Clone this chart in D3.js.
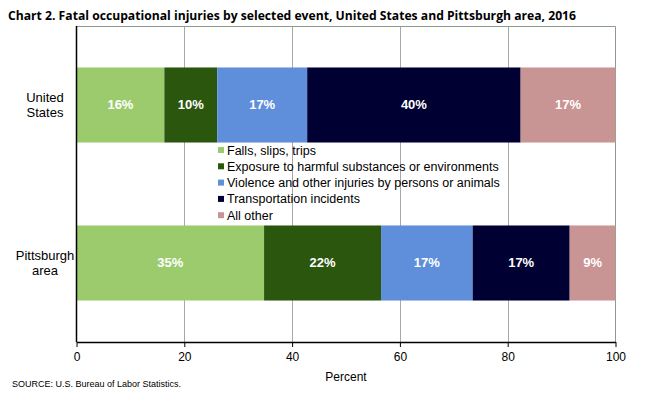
<!DOCTYPE html>
<html>
<head>
<meta charset="utf-8">
<script src="https://cdn.jsdelivr.net/npm/d3@7"></script>
<style>
  body { margin: 0; background: #fff; }
  svg { display: block; font-family: "Liberation Sans", Arial, sans-serif; }
</style>
</head>
<body>
<div id="chart"></div>
<script>
const regions = ["United States", "Pittsburgh area"];
const events = ["Falls, slips, trips", "Exposure to harmful substances or environments",
  "Violence and other injuries by persons or animals", "Transportation incidents", "All other"];
const colors = ["#9BCB6D", "#2B560E", "#5F8EDB", "#000033", "#C99494"];
const usValues = [16.3, 9.8, 16.7, 39.6, 17.6];
const pghValues = [34.8, 21.7, 17.0, 18.0, 8.5];
const usLabels = ["16%", "10%", "17%", "40%", "17%"];
const pghLabels = ["35%", "22%", "17%", "17%", "9%"];
const xTicks = [0, 20, 40, 60, 80, 100];

const w = 648, h = 398;
const pLeft = 76.5, pRight = 615.5, pTop = 26, pBottom = 342;

const svg = d3.select("#chart").append("svg").attr("width", w).attr("height", h);

const x = d3.scaleLinear().domain([0, 100]).range([pLeft, pRight]);
const y = d3.scaleBand().domain(regions).range([pTop, pBottom]).padding(0.525).paddingOuter(0.2625);

svg.append("text")
  .attr("x", 8).attr("y", 20)
  .style("font-family", "'Open Sans', sans-serif")
  .style("font-weight", "bold").style("font-size", "13px")
  .attr("textLength", 568).attr("lengthAdjust", "spacingAndGlyphs")
  .text("Chart 2. Fatal occupational injuries by selected event, United States and Pittsburgh area, 2016");

// grid + frame
svg.selectAll(".grid").data(xTicks.slice(1, -1)).enter().append("line")
  .attr("x1", d => Math.round(x(d)) + 0.5).attr("x2", d => Math.round(x(d)) + 0.5)
  .attr("y1", pTop).attr("y2", pBottom)
  .attr("stroke", "#a8a8a8").attr("stroke-width", 1);
svg.append("path")
  .attr("d", `M${pLeft},${pTop + 0.5}H${pRight}V${pBottom}`)
  .attr("fill", "none").attr("stroke", "#8c9c8c");

const rows = [
  { region: regions[0], values: usValues, labels: usLabels },
  { region: regions[1], values: pghValues, labels: pghLabels }
];

rows.forEach(row => {
  let acc = 0;
  const segs = row.values.map((v, i) => {
    const s = { x0: acc, x1: acc + v, color: colors[i], label: row.labels[i] };
    acc += v;
    return s;
  });
  const g = svg.append("g");
  g.selectAll("rect").data(segs).enter().append("rect")
    .attr("x", d => x(d.x0)).attr("width", d => x(d.x1) - x(d.x0))
    .attr("y", y(row.region)).attr("height", y.bandwidth())
    .attr("fill", d => d.color);
  g.selectAll("text").data(segs).enter().append("text")
    .attr("x", d => x((d.x0 + d.x1) / 2))
    .attr("y", y(row.region) + y.bandwidth() / 2 + 4)
    .attr("text-anchor", "middle")
    .attr("fill", "#fff").style("font-weight", "bold").style("font-size", "13px")
    .text(d => d.label);
});

// category labels
rows.forEach(row => {
  const parts = row.region === "United States" ? ["United", "States"] : ["Pittsburgh", "area"];
  const cy = y(row.region) + y.bandwidth() / 2;
  svg.append("text")
    .attr("x", 45).attr("y", cy - 3)
    .attr("text-anchor", "middle").style("font-size", "13px").attr("fill", "#000")
    .selectAll("tspan").data(parts).enter().append("tspan")
    .attr("x", 45).attr("dy", (d, i) => i === 0 ? 0 : 15)
    .text(d => d);
});

// axes
const xAxis = d3.axisBottom(x).tickValues(xTicks).tickSize(5).tickSizeOuter(0);
const ax = svg.append("g").attr("transform", "translate(0," + pBottom + ")").call(xAxis);
ax.select(".domain").attr("stroke", "#000").attr("stroke-width", 1.5);
ax.selectAll(".tick line").attr("stroke", "#000");
ax.selectAll(".tick text").style("font-size", "12px").attr("fill", "#000")
  .style("font-family", "'Liberation Sans Narrow', 'Liberation Sans', sans-serif").attr("dy", "0.95em");

svg.append("line").attr("x1", pLeft).attr("x2", pLeft).attr("y1", pTop).attr("y2", pBottom)
  .attr("stroke", "#000").attr("stroke-width", 1.5);

svg.append("text").attr("x", x(50)).attr("y", 381)
  .attr("text-anchor", "middle").style("font-size", "12px")
  .style("font-family", "'Liberation Sans Narrow', 'Liberation Sans', sans-serif")
  .text("Percent");

svg.append("text").attr("x", 12).attr("y", 387)
  .style("font-size", "9px")
  .style("font-family", "'Liberation Sans Narrow', 'Liberation Sans', sans-serif")
  .text("SOURCE: U.S. Bureau of Labor Statistics.");

// legend
const legend = svg.append("g");
const lg = legend.selectAll("g").data(events).enter().append("g")
  .attr("transform", (d, i) => "translate(218," + (150 + i * 16.3) + ")");
lg.append("rect").attr("x", 0).attr("y", -3).attr("width", 6).attr("height", 6)
  .attr("fill", (d, i) => colors[i]);
lg.append("text").attr("x", 9).attr("y", 4.5)
  .style("font-size", "12.5px").attr("fill", "#000").text(d => d);
</script>
</body>
</html>
